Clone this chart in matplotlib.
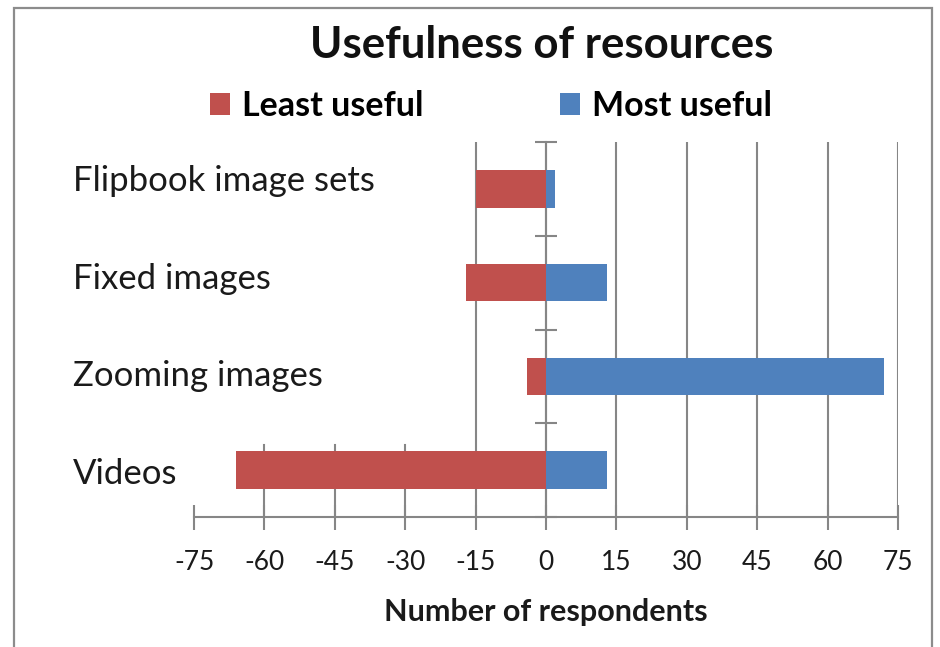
import matplotlib
matplotlib.use("Agg")
import matplotlib.pyplot as plt
from matplotlib.patches import Patch, Rectangle
from matplotlib.transforms import blended_transform_factory

categories = ["Flipbook image sets", "Fixed images", "Zooming images", "Videos"]
least_useful = [-15, -17, -4, -66]
most_useful = [2, 13, 72, 13]
x_ticks = [-75, -60, -45, -30, -15, 0, 15, 30, 45, 60, 75]
x_tick_labels = ["-75", "-60", "-45", "-30", "-15", "0", "15", "30", "45", "60", "75"]

RED = "#C0504D"
BLUE = "#4F81BD"
GRID = "#868686"
FONT = "Lato"

plt.rcParams["font.family"] = [FONT, "DejaVu Sans"]

W, H = 940, 647
fig = plt.figure(figsize=(W / 100, H / 100), dpi=100)

# outer chart frame
fig.patches.append(Rectangle((14 / W, -0.01), (932 - 14) / W, 1 - 8 / H + 0.01,
                             transform=fig.transFigure, fill=False,
                             edgecolor="#8C8C8C", linewidth=1.6))

ax = fig.add_axes([194 / W, 1 - 517 / H, (898 - 194) / W, (517 - 142) / H])

n = len(categories)
ypos = [n - 1 - i for i in range(n)]

ax.barh(ypos, least_useful, height=0.4, color=RED, zorder=3)
ax.barh(ypos, most_useful, height=0.4, color=BLUE, zorder=3)

ax.set_xlim(-75, 75)
ax.set_ylim(-0.5, n - 0.5)

# vertical gridlines
for xv in x_ticks:
    if xv >= -15:
        ax.axvline(xv, color=GRID, lw=1.5, zorder=1)
    elif xv > -75:
        ax.axvline(xv, ymin=0, ymax=0.192, color=GRID, lw=1.5, zorder=1)

for s in ["top", "right"]:
    ax.spines[s].set_visible(False)
ax.spines["left"].set_position(("data", 0))
ax.spines["left"].set_color(GRID)
ax.spines["left"].set_linewidth(1.5)
ax.spines["bottom"].set_color(GRID)
ax.spines["bottom"].set_linewidth(1.5)

ax.set_yticks([k - 0.5 for k in range(n + 1)])
ax.set_yticklabels([])
ax.tick_params(axis="y", direction="inout", length=16, width=1.5, color=GRID)

ax.set_xticks(x_ticks)
ax.set_xticklabels(x_tick_labels)
ax.tick_params(axis="x", direction="inout", length=18, width=1.5, color=GRID,
               labelsize=19, pad=15, labelcolor="#1a1a1a")

# category labels (drawn inside the left region like the original)
tr = blended_transform_factory(fig.transFigure, ax.transData)
for yv, lab in zip(ypos, categories):
    ax.text(73 / W, yv + 0.04 * (yv - 1), lab, transform=tr,
            ha="left", va="center", fontsize=25, color="#1a1a1a", zorder=4)

ax.set_xlabel("Number of respondents", fontsize=22, fontweight="bold",
              color="#1a1a1a", labelpad=16)

fig.text(542 / W, 1 - 45 / H, "Usefulness of resources", ha="center", va="center",
         fontsize=31.5, fontweight="bold", color="#111111")

handles = [Patch(facecolor=RED, edgecolor="none", label="Least useful"),
           Patch(facecolor=BLUE, edgecolor="none", label="Most useful")]
fig.legend(handles=handles, loc="center", bbox_to_anchor=(491 / W, 1 - 106 / H),
           ncol=2, frameon=False, handlelength=0.6, handleheight=0.6,
           handletextpad=0.35, columnspacing=4.0,
           prop={"family": FONT, "weight": "bold", "size": 24.5})

fig.savefig("out.png", dpi=100)
